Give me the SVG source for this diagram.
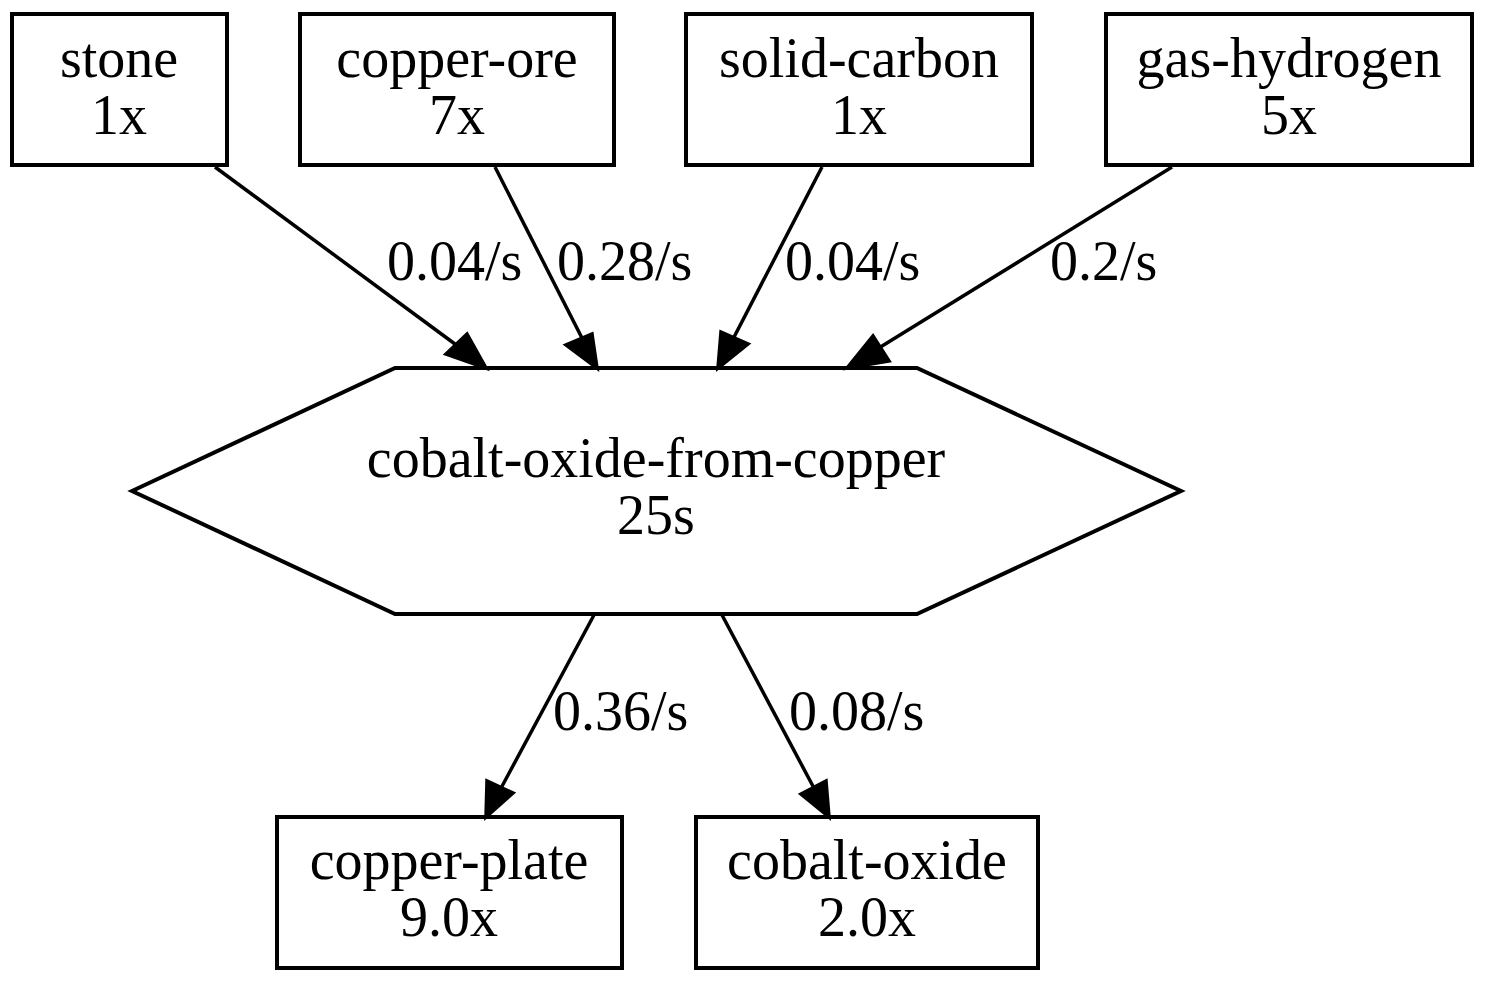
<svg xmlns="http://www.w3.org/2000/svg" width="1489" height="986" viewBox="0 0 1489 986">
<style>
.n{fill:#fff;stroke:#000;stroke-width:4}
text{font-family:"Liberation Serif","Times New Roman",serif;font-size:56px;fill:#000;text-anchor:middle}
.e{stroke:#000;stroke-width:3.5;fill:none}
.ah{fill:#000;stroke:#000;stroke-width:3.5;stroke-linejoin:miter}
.l{text-anchor:start}
</style>
<rect width="1489" height="986" fill="#fff"/>
<g id="stone"><rect class="n" x="12" y="14" width="215" height="151"/><text x="119" y="77">stone</text><text x="119" y="134">1x</text></g>
<g id="copper-ore"><rect class="n" x="300" y="14" width="314" height="151"/><text x="457" y="77">copper-ore</text><text x="457" y="134">7x</text></g>
<g id="solid-carbon"><rect class="n" x="686" y="14" width="346" height="151"/><text x="859" y="77">solid-carbon</text><text x="859" y="134">1x</text></g>
<g id="gas-hydrogen"><rect class="n" x="1106" y="14" width="366" height="151"/><text x="1289" y="77">gas-hydrogen</text><text x="1289" y="134">5x</text></g>
<g id="recipe"><polygon class="n" points="132,491 395,368 917,368 1181,491 917,614 395,614"/><text x="656" y="477">cobalt-oxide-from-copper</text><text x="656" y="534">25s</text></g>
<g id="copper-plate"><rect class="n" x="277" y="817" width="345" height="151"/><text x="449" y="879">copper-plate</text><text x="449" y="936">9.0x</text></g>
<g id="cobalt-oxide"><rect class="n" x="696" y="817" width="342" height="151"/><text x="867" y="879">cobalt-oxide</text><text x="867" y="936">2.0x</text></g>
<g id="edges">
<line class="e" x1="215" y1="167" x2="459" y2="347"/>
<polygon class="ah" points="486,368 446,354 467,334"/>
<text class="l" x="387" y="280">0.04/s</text>
<line class="e" x1="495" y1="167" x2="583" y2="340"/>
<polygon class="ah" points="597,368 566,345 592,334"/>
<text class="l" x="557" y="280">0.28/s</text>
<line class="e" x1="822" y1="167" x2="732" y2="341"/>
<polygon class="ah" points="718,368 721,332 748,344"/>
<text class="l" x="785" y="280">0.04/s</text>
<line class="e" x1="1172" y1="167" x2="874" y2="351"/>
<polygon class="ah" points="847,368 873,336 889,361"/>
<text class="l" x="1050" y="280">0.2/s</text>
<line class="e" x1="594" y1="615" x2="500" y2="790"/>
<polygon class="ah" points="486,817 487,781 513,793"/>
<text class="l" x="553" y="730">0.36/s</text>
<line class="e" x1="722" y1="615" x2="815" y2="790"/>
<polygon class="ah" points="829,817 801,794 826,781"/>
<text class="l" x="789" y="730">0.08/s</text>
</g>
</svg>
